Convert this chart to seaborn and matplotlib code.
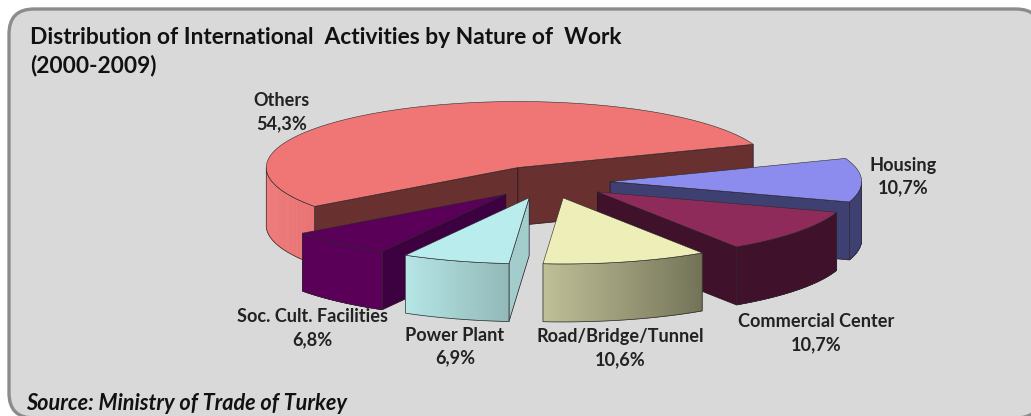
import numpy as np
import matplotlib
matplotlib.use('Agg')
import matplotlib.pyplot as plt
from matplotlib.patches import FancyBboxPatch, Polygon
import seaborn as sns

categories = ['Others', 'Soc. Cult. Facilities', 'Power Plant', 'Road/Bridge/Tunnel', 'Commercial Center', 'Housing']
shares = [54.3, 6.8, 6.9, 10.6, 10.7, 10.7]

top_colors = ['#f07676', '#5b0058', '#b9ecec', '#eeeeb9', '#8f2b5b', '#8c8cee']
wall_from = ['#f28080', '#5b0058', '#b6e6e6', '#bfbf98', '#3f112a', '#3f4072']
wall_to = ['#ea7272', '#5b0058', '#93b9b9', '#737358', '#3f112a', '#3f4072']
cut_colors = ['#683130', '#3d0040', '#a3cdcd', '#737358', '#3f112a', '#3f4072']
draw_order = [0, 5, 4, 1, 3, 2]
label_xy = [(281.5, 112), (312.5, 328), (455, 346.5), (620, 348), (816, 333), (903, 176.5)]

# pie geometry, in pixels of the 1031x416 picture
CX, CY = 547.5, 182
RX, RY = 251.5, 66
DEPTH = 58
EXPLODE = 0.249
START_ANGLE = 20.6

sns.set_style('white')
plt.rcParams['font.family'] = ['Lato', 'DejaVu Sans']

fig = plt.figure(figsize=(10.31, 4.16), dpi=100)
ax = fig.add_axes([0, 0, 1, 1])
ax.set_xlim(0, 1031)
ax.set_ylim(416, 0)
ax.axis('off')

# panel runs off the right and bottom of the picture
ax.add_patch(FancyBboxPatch((9, 9), 1032, 409, boxstyle='round,pad=0,rounding_size=25',
                            fc='#d9d9d9', ec='#8c8c8c', lw=2.4))

counter = [2]


def z():
    counter[0] += 1
    return counter[0]


def ell(angle, ox, oy):
    t = np.radians(angle)
    return ox + RX * np.cos(t), oy - RY * np.sin(t)


def cut_face(angle, ox, oy, color):
    x, y = ell(angle, ox, oy)
    pts = [(ox, oy), (x, y), (x, y + DEPTH), (ox, oy + DEPTH)]
    ax.add_patch(Polygon(pts, closed=True, fc=color, ec='#201020', lw=0.5, zorder=z()))


def draw_slice(i, a0, a1):
    mid = np.radians((a0 + a1) / 2)
    ox = CX + EXPLODE * RX * np.cos(mid)
    oy = CY - EXPLODE * RY * np.sin(mid)

    # cut faces, only those turned to the viewer
    if np.cos(np.radians(a0)) > 0:
        cut_face(a0, ox, oy, cut_colors[i])
    if np.cos(np.radians(a1)) < 0:
        cut_face(a1, ox, oy, cut_colors[i])

    # outer wall, front part of the rim only
    angles = np.linspace(a0, a1, 300)
    front = angles[np.sin(np.radians(angles)) <= 0]
    if len(front) > 1:
        shades = sns.blend_palette([wall_from[i], wall_to[i]], len(front) - 1)
        for k in range(len(front) - 1):
            x0, y0 = ell(front[k], ox, oy)
            x1, y1 = ell(front[k + 1], ox, oy)
            pts = [(x0, y0), (x1, y1), (x1, y1 + DEPTH), (x0, y0 + DEPTH)]
            ax.add_patch(Polygon(pts, closed=True, fc=shades[k], ec=shades[k], lw=0.4, zorder=z()))
        xs, ys = ell(front, ox, oy)
        outline = list(zip(xs, ys)) + list(zip(xs[::-1], ys[::-1] + DEPTH))
        ax.add_patch(Polygon(outline, closed=True, fill=False, ec='#2a2a2a', lw=0.5, zorder=z()))

    # top
    xs, ys = ell(angles, ox, oy)
    pts = [(ox, oy)] + list(zip(xs, ys))
    ax.add_patch(Polygon(pts, closed=True, fc=top_colors[i], ec='#2a2a2a', lw=0.4, zorder=z()))


edges = START_ANGLE + np.concatenate([[0], np.cumsum(shares)]) * 3.6
for i in draw_order:
    draw_slice(i, edges[i], edges[i + 1])

for name, value, (x, y) in zip(categories, shares, label_xy):
    ax.text(x, y, name + '\n' + f'{value:.1f}'.replace('.', ',') + '%', ha='center', va='center',
            fontsize=13.1, fontweight='bold', color='#222222', linespacing=1.4, zorder=500)

ax.text(30, 37.5, 'Distribution of International  Activities by Nature of  Work', fontsize=16.4,
        fontweight='bold', color='#111111', va='center', zorder=500)
ax.text(30, 65.5, '(2000-2009)', fontsize=16.4, fontweight='bold', color='#111111', va='center', zorder=500)
ax.text(26, 403, 'Source: Ministry of Trade of Turkey', fontsize=15.6, fontweight='bold', style='italic',
        color='#111111', va='center', zorder=500)

fig.savefig('out.png', dpi=100, facecolor='white')
